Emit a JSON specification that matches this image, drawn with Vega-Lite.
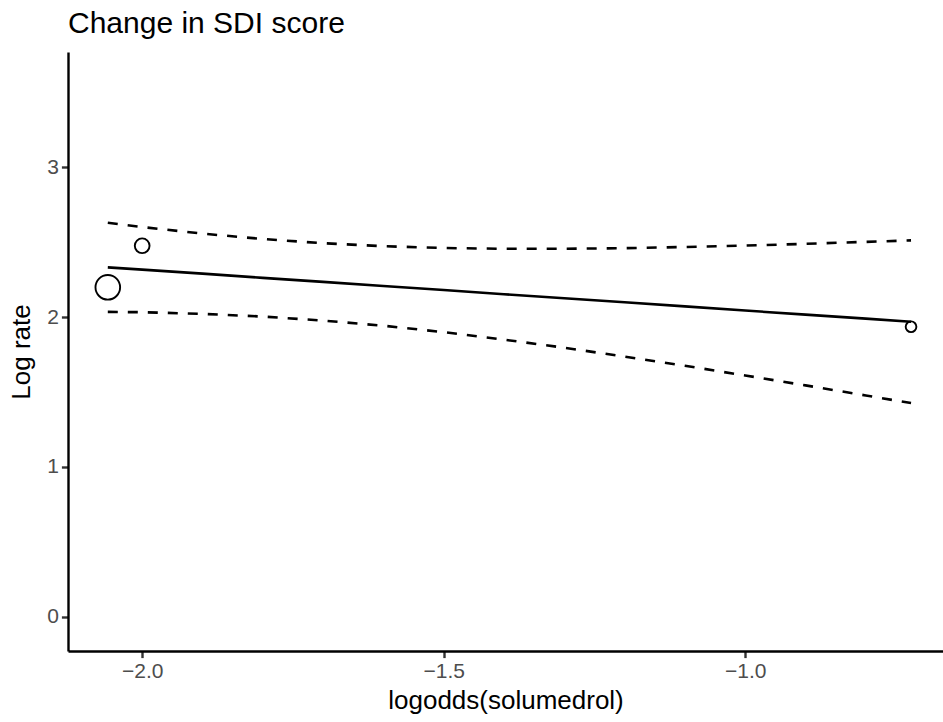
{
  "$schema": "https://vega.github.io/schema/vega-lite/v6.json",
  "width": 875,
  "height": 599,
  "autosize": {"type": "none"},
  "padding": {"left": 68, "top": 52, "right": 0, "bottom": 71},
  "background": "white",
  "title": {
    "text": "Change in SDI score",
    "anchor": "start",
    "frame": "group",
    "font": "Liberation Sans",
    "fontSize": 30,
    "fontWeight": "normal",
    "color": "black",
    "baseline": "alphabetic",
    "offset": -11
  },
  "config": {
    "view": {"stroke": null},
    "axis": {
      "grid": false,
      "domainColor": "black",
      "domainWidth": 2.4,
      "tickColor": "#333333",
      "tickWidth": 2.4,
      "tickSize": 6.6,
      "labelColor": "#4D4D4D",
      "labelFont": "Liberation Sans",
      "labelFontSize": 21,
      "labelPadding": 3,
      "titleFont": "Liberation Sans",
      "titleFontSize": 26,
      "titleFontWeight": "normal",
      "titleColor": "black"
    }
  },
  "datasets": {
    "studies": [
      {"logodds": -2.057, "lograte": 2.198, "weight": 5.3},
      {"logodds": -2.0, "lograte": 2.475, "weight": 1.9},
      {"logodds": -0.725, "lograte": 1.935, "weight": 1.0}
    ],
    "fit": [
      {"logodds": -2.057, "pred": 2.331, "lower": 2.034, "upper": 2.628},
      {"logodds": -2.0, "pred": 2.316, "lower": 2.032, "upper": 2.6},
      {"logodds": -1.9, "pred": 2.289, "lower": 2.021, "upper": 2.556},
      {"logodds": -1.8, "pred": 2.261, "lower": 2.003, "upper": 2.52},
      {"logodds": -1.7, "pred": 2.234, "lower": 1.976, "upper": 2.492},
      {"logodds": -1.6, "pred": 2.207, "lower": 1.942, "upper": 2.472},
      {"logodds": -1.5, "pred": 2.18, "lower": 1.899, "upper": 2.46},
      {"logodds": -1.4, "pred": 2.152, "lower": 1.849, "upper": 2.455},
      {"logodds": -1.3, "pred": 2.125, "lower": 1.795, "upper": 2.455},
      {"logodds": -1.2, "pred": 2.098, "lower": 1.736, "upper": 2.459},
      {"logodds": -1.1, "pred": 2.071, "lower": 1.675, "upper": 2.467},
      {"logodds": -1.0, "pred": 2.043, "lower": 1.61, "upper": 2.476},
      {"logodds": -0.9, "pred": 2.016, "lower": 1.544, "upper": 2.488},
      {"logodds": -0.8, "pred": 1.989, "lower": 1.477, "upper": 2.501},
      {"logodds": -0.725, "pred": 1.968, "lower": 1.426, "upper": 2.511}
    ]
  },
  "encoding": {
    "x": {
      "field": "logodds",
      "type": "quantitative",
      "scale": {"domain": [-2.123, -0.672], "nice": false, "zero": false},
      "axis": {
        "title": "logodds(solumedrol)",
        "values": [-2, -1.5, -1],
        "format": ".1f",
        "titlePadding": 6
      }
    }
  },
  "layer": [
    {
      "data": {"name": "fit"},
      "mark": {"type": "line", "color": "black", "strokeWidth": 2.6, "strokeCap": "butt"},
      "encoding": {
        "y": {
          "field": "pred",
          "type": "quantitative",
          "scale": {"domain": [-0.227, 3.767], "nice": false, "zero": false},
          "axis": {"title": "Log rate", "values": [0, 1, 2, 3], "format": "d", "titlePadding": 12}
        }
      }
    },
    {
      "data": {"name": "fit"},
      "mark": {"type": "line", "color": "black", "strokeWidth": 2.6, "strokeDash": [10, 10], "strokeCap": "butt"},
      "encoding": {"y": {"field": "upper", "type": "quantitative"}}
    },
    {
      "data": {"name": "fit"},
      "mark": {"type": "line", "color": "black", "strokeWidth": 2.6, "strokeDash": [10, 10], "strokeCap": "butt"},
      "encoding": {"y": {"field": "lower", "type": "quantitative"}}
    },
    {
      "data": {"name": "studies"},
      "mark": {"type": "point", "shape": "circle", "filled": false, "stroke": "black", "strokeWidth": 1.9, "opacity": 1},
      "encoding": {
        "y": {"field": "lograte", "type": "quantitative"},
        "size": {
          "field": "weight",
          "type": "quantitative",
          "scale": {"type": "linear", "domain": [0, 6], "range": [0, 687], "zero": true},
          "legend": null
        }
      }
    }
  ]
}
